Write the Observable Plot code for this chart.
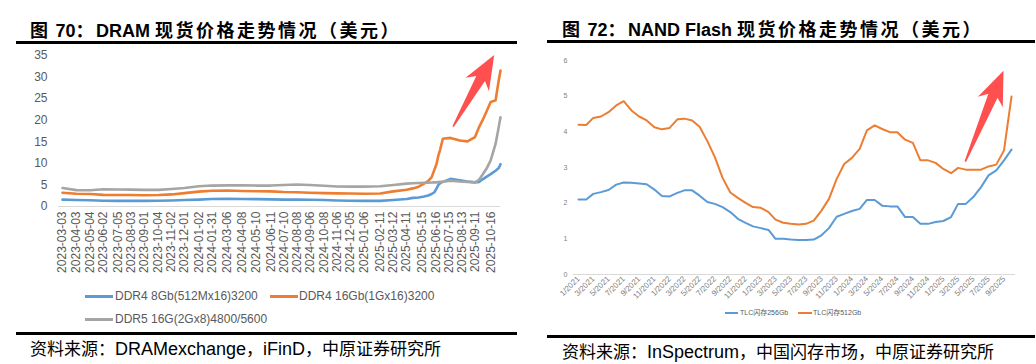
<!DOCTYPE html>
<html lang="zh-CN">
<head>
<meta charset="utf-8">
<script src="https://cdn.jsdelivr.net/npm/d3@7"></script>
<script src="https://cdn.jsdelivr.net/npm/@observablehq/plot@0.6"></script>
<style>
html,body{margin:0;padding:0;background:#fff;}
#root{position:relative;width:1036px;height:364px;overflow:hidden;background:#fff;font-family:"Liberation Sans","Noto Sans CJK SC",sans-serif;}
.a{position:absolute;white-space:nowrap;}
.title{font-size:18px;line-height:18px;font-weight:700;color:#000;font-family:"Liberation Sans","Noto Sans CJK SC",sans-serif;}
.title .c{font-family:"Noto Sans CJK SC",sans-serif;letter-spacing:2.5px;}
.rule{position:absolute;background:#000;height:3px;}
.src{font-size:18px;line-height:18px;color:#000;}
.src .c{font-family:"Noto Sans CJK SC",sans-serif;font-size:17px;}
.lg{font-size:12px;line-height:12px;color:#595959;}
.lg2{font-size:7px;line-height:7px;color:#595959;}
.sw{position:absolute;height:3px;}
.sw2{position:absolute;height:2px;}
</style>
</head>
<body>
<div id="root">
  <!-- left panel -->
  <div class="a title" style="left:30px;top:20px"><span class="c">图</span> 70<span class="c">：</span>DRAM <span class="c">现货价格走势情况（美元）</span></div>
  <div class="rule" style="left:16px;top:41px;width:501px"></div>
  <div class="a" id="left" style="left:16px;top:44px"></div>
  <div id="legL"></div>
  <div class="rule" style="left:16px;top:332px;width:501px"></div>
  <div class="a src" style="left:30px;top:339px"><span class="c">资料来源：</span>DRAMexchange<span class="c">，</span>iFinD<span class="c">，中原证券研究所</span></div>

  <!-- right panel -->
  <div class="a title" style="left:562px;top:19px"><span class="c">图</span> 72<span class="c">：</span>NAND Flash <span class="c">现货价格走势情况（美元）</span></div>
  <div class="rule" style="left:547px;top:40px;width:488px"></div>
  <div class="a" id="right" style="left:547px;top:44px"></div>
  <div id="legR"></div>
  <div class="rule" style="left:547px;top:335px;width:488px"></div>
  <div class="a src" style="left:562px;top:342px"><span class="c">资料来源：</span>InSpectrum<span class="c">，中国闪存市场，中原证券研究所</span></div>
</div>
<script>
// ---------------- DRAM (left) data ----------------
const dramSeries = ["DDR4 8Gb(512Mx16)3200", "DDR4 16Gb(1Gx16)3200", "DDR5 16G(2Gx8)4800/5600"];
const dramColors = ["#5B9BD5", "#ED7D31", "#A5A5A5"];
const dramTickLabels = ["2023-03-03","2023-04-03","2023-05-04","2023-06-02","2023-07-05","2023-08-03","2023-09-01","2023-10-04","2023-11-02","2023-12-01","2024-01-02","2024-01-31","2024-03-06","2024-04-08","2024-05-10","2024-06-11","2024-07-10","2024-08-08","2024-09-06","2024-10-08","2024-11-06","2024-12-05","2025-01-06","2025-02-11","2025-03-12","2025-04-11","2025-05-15","2025-06-16","2025-07-15","2025-08-13","2025-09-11","2025-10-16"];
const dramYTicks = [0, 5, 10, 15, 20, 25, 30, 35];
const dramDates = ["2023-03-03","2023-04-03","2023-05-04","2023-06-02","2023-07-05","2023-08-03","2023-09-01","2023-10-04","2023-11-02","2023-12-01",
  "2024-01-02","2024-01-31","2024-03-06","2024-04-08","2024-05-10","2024-06-11","2024-07-10","2024-08-08","2024-09-06","2024-10-08",
  "2024-11-06","2024-12-05","2025-01-06","2025-02-11","2025-03-12","2025-04-11","2025-04-25","2025-05-08","2025-05-20","2025-05-29",
  "2025-06-06","2025-06-12","2025-06-17","2025-06-21","2025-06-25","2025-07-01","2025-07-18","2025-08-08","2025-08-25","2025-09-11",
  "2025-09-20","2025-09-28","2025-10-08","2025-10-16","2025-10-27","2025-11-03","2025-11-07"];
const ddr4_8Gb = [1.6,1.5,1.45,1.35,1.3,1.3,1.3,1.35,1.4,1.5,
  1.6,1.75,1.8,1.75,1.7,1.65,1.6,1.6,1.55,1.5,
  1.4,1.35,1.3,1.3,1.5,1.75,2.0,2.1,2.3,2.55,
  2.9,3.3,4.2,5.0,5.4,5.7,6.4,6.1,5.8,5.6,
  5.7,6.3,7.0,7.5,8.3,8.9,9.8];
const ddr4_16Gb = [3.2,2.95,2.9,2.7,2.65,2.65,2.6,2.65,2.8,3.1,
  3.45,3.65,3.7,3.6,3.55,3.5,3.35,3.3,3.2,3.1,
  3.05,3.0,2.95,3.0,3.5,3.9,4.2,4.6,5.3,5.9,
  6.8,8.5,9.9,11.8,13.2,15.7,15.9,15.3,15.1,16.1,
  18.4,20.0,22.3,24.2,24.6,29.2,31.5];
const ddr5_16G = [4.3,3.8,3.75,4.0,3.95,3.9,3.85,3.85,4.05,4.3,
  4.7,4.85,4.9,4.9,4.85,4.85,5.0,5.1,5.0,4.8,
  4.65,4.6,4.6,4.7,5.0,5.3,5.4,5.45,5.5,5.5,
  5.55,5.6,5.6,5.65,5.7,5.75,6.0,5.8,5.7,5.6,
  6.2,7.4,9.0,10.7,14.5,18.4,20.7];
const dramArrow = [{x1: "2025-07-25", y1: 18.4, x2: "2025-10-25", y2: 35}];

// ---------------- NAND (right) data ----------------
const nandSeries = ["TLC闪存256Gb", "TLC闪存512Gb"];
const nandColors = ["#5B9BD5", "#ED7D31"];
const nandMonths = ["2021-01","2021-02","2021-03","2021-04","2021-05","2021-06","2021-07","2021-08","2021-09","2021-10","2021-11","2021-12",
  "2022-01","2022-02","2022-03","2022-04","2022-05","2022-06","2022-07","2022-08","2022-09","2022-10","2022-11","2022-12",
  "2023-01","2023-02","2023-03","2023-04","2023-05","2023-06","2023-07","2023-08","2023-09","2023-10","2023-11","2023-12",
  "2024-01","2024-02","2024-03","2024-04","2024-05","2024-06","2024-07","2024-08","2024-09","2024-10","2024-11","2024-12",
  "2025-01","2025-02","2025-03","2025-04","2025-05","2025-06","2025-07","2025-08","2025-09","2025-10"];
const tlc256 = [2.1,2.1,2.26,2.31,2.37,2.52,2.58,2.57,2.55,2.53,
  2.38,2.2,2.19,2.29,2.36,2.36,2.21,2.03,1.98,1.89,
  1.75,1.56,1.45,1.35,1.3,1.25,1.0,1.0,0.98,0.97,
  0.97,0.98,1.1,1.3,1.62,1.7,1.78,1.84,2.09,2.09,
  1.93,1.91,1.91,1.61,1.61,1.42,1.42,1.47,1.5,1.61,
  1.98,1.98,2.17,2.45,2.78,2.92,3.2,3.5];
const tlc512 = [4.2,4.19,4.39,4.43,4.55,4.74,4.86,4.6,4.43,4.32,
  4.13,4.07,4.11,4.35,4.37,4.32,4.14,3.74,3.29,2.71,
  2.3,2.15,2.01,1.89,1.87,1.75,1.54,1.45,1.42,1.4,
  1.42,1.51,1.79,2.12,2.68,3.1,3.27,3.52,4.04,4.18,
  4.08,3.99,3.99,3.78,3.69,3.2,3.2,3.13,2.96,2.84,
  2.99,2.94,2.94,2.94,3.03,3.08,3.48,4.99];
const nandTickLabels = ["2021-01","2021-03","2021-05","2021-07","2021-09","2021-11",
  "2022-01","2022-03","2022-05","2022-07","2022-09","2022-11",
  "2023-01","2023-03","2023-05","2023-07","2023-09","2023-11",
  "2024-01","2024-03","2024-05","2024-07","2024-09","2024-11",
  "2025-01","2025-03","2025-05","2025-07","2025-09"];
const nandYTicks = [0, 1, 2, 3, 4, 5, 6];
const nandArrow = [{x1: "2025-04-01", y1: 3.15, x2: "2025-09-01", y2: 5.7}];

// ---------------- helpers ----------------
const parseDay = d3.utcParse("%Y-%m-%d");
const parseMonth = d3.utcParse("%Y-%m");

function blockArrow(data, parse) {
  return Plot.arrow(data, {
    x1: d => parse(d.x1), y1: "y1", x2: d => parse(d.x2), y2: "y2",
    render(index, scales, values) {
      const g = d3.create("svg:g");
      for (const i of index) {
        const X1 = values.x1[i], Y1 = values.y1[i], X2 = values.x2[i], Y2 = values.y2[i];
        const dx = X2 - X1, dy = Y2 - Y1, L = Math.hypot(dx, dy);
        const ux = dx / L, uy = dy / L, nx = -uy, ny = ux;
        const hl = 34, hw = 13.5, sw = 5, tw = 0.8, notch = 0.8;
        const bx = X2 - ux * hl, by = Y2 - uy * hl;
        const cx = X2 - ux * hl * notch, cy = Y2 - uy * hl * notch;
        const pts = [
          [X1 + nx * tw, Y1 + ny * tw],
          [cx + nx * sw, cy + ny * sw],
          [bx + nx * hw, by + ny * hw],
          [X2, Y2],
          [bx - nx * hw, by - ny * hw],
          [cx - nx * sw, cy - ny * sw],
          [X1 - nx * tw, Y1 - ny * tw]
        ];
        g.append("path").attr("d", "M" + pts.map(p => p.join(",")).join("L") + "Z").attr("fill", "#FF4F4F");
      }
      return g.node();
    }
  });
}

// ---------------- left chart ----------------
const dramRows = [];
[ddr4_8Gb, ddr4_16Gb, ddr5_16G].forEach((vals, s) =>
  vals.forEach((v, i) => dramRows.push({series: dramSeries[s], date: parseDay(dramDates[i]), value: v})));

const left = Plot.plot({
  width: 501, height: 240,
  marginLeft: 46, marginRight: 17, marginTop: 11, marginBottom: 78,
  style: {fontFamily: "'Liberation Sans', Arial, sans-serif", fontSize: "12px", color: "#595959", background: "transparent", overflow: "visible"},
  x: {type: "utc", domain: [parseDay(dramDates[0]), parseDay(dramDates[dramDates.length - 1])], label: null},
  y: {domain: [0, 35], label: null},
  color: {domain: dramSeries, range: dramColors},
  marks: [
    Plot.ruleY([0], {stroke: "#D9D9D9", strokeWidth: 1, insetLeft: -4}),
    Plot.axisY(dramYTicks, {tickSize: 0, tickPadding: 15, label: null, fontSize: 12}),
    Plot.axisX(dramTickLabels.map(parseDay), {tickSize: 0, tickPadding: 5, tickRotate: -90, tickFormat: d3.utcFormat("%Y-%m-%d"), label: null, fontSize: 12}),
    Plot.line(dramRows, {x: "date", y: "value", z: "series", stroke: "series", strokeWidth: 2.6}),
    blockArrow(dramArrow, parseDay)
  ]
});
document.getElementById("left").appendChild(left);

// ---------------- right chart ----------------
const nandRows = [];
[tlc256, tlc512].forEach((vals, s) =>
  vals.forEach((v, i) => nandRows.push({series: nandSeries[s], date: parseMonth(nandMonths[i]), value: v})));

const right = Plot.plot({
  width: 488, height: 262,
  marginLeft: 31, marginRight: 24, marginTop: 16, marginBottom: 32,
  style: {fontFamily: "'Liberation Sans', Arial, sans-serif", fontSize: "8px", color: "#7F7F7F", background: "transparent", overflow: "visible"},
  x: {type: "utc", domain: [parseMonth(nandMonths[0]), parseMonth(nandMonths[nandMonths.length - 1])], label: null},
  y: {domain: [0, 6], label: null},
  color: {domain: nandSeries, range: nandColors},
  marks: [
    Plot.ruleY([0], {stroke: "#D9D9D9", strokeWidth: 1, insetLeft: -5, insetRight: -4}),
    Plot.axisY(nandYTicks, {tickSize: 0, tickPadding: 11, label: null, fontSize: 7}),
    Plot.axisX(nandTickLabels.map(parseMonth), {tickSize: 0, tickPadding: 3, tickRotate: -45, tickFormat: d3.utcFormat("%-m/%Y"), label: null, fontSize: 8}),
    Plot.line(nandRows, {x: "date", y: "value", z: "series", stroke: "series", strokeWidth: 2}),
    blockArrow(nandArrow, parseDay)
  ]
});
document.getElementById("right").appendChild(right);

// ---------------- legends ----------------
const legL = document.getElementById("legL");
const legLPos = [[85, 295, 115, 290], [270, 295, 299, 290], [85, 318, 115, 313]];
dramSeries.forEach((s, i) => {
  const [sx, sy, tx, ty] = legLPos[i];
  const sw = document.createElement("div");
  sw.className = "sw"; sw.style.left = sx + "px"; sw.style.top = sy + "px"; sw.style.width = "28px"; sw.style.background = dramColors[i];
  const t = document.createElement("div");
  t.className = "a lg"; t.style.left = tx + "px"; t.style.top = ty + "px"; t.textContent = s;
  legL.appendChild(sw); legL.appendChild(t);
});
const legR = document.getElementById("legR");
const legRPos = [[725, 312, 13, 740, 309], [798, 312, 14, 813, 309]];
nandSeries.forEach((s, i) => {
  const [sx, sy, w, tx, ty] = legRPos[i];
  const sw = document.createElement("div");
  sw.className = "sw2"; sw.style.left = sx + "px"; sw.style.top = sy + "px"; sw.style.width = w + "px"; sw.style.background = nandColors[i];
  const t = document.createElement("div");
  t.className = "a lg2"; t.style.left = tx + "px"; t.style.top = ty + "px"; t.textContent = s;
  legR.appendChild(sw); legR.appendChild(t);
});
</script>
</body>
</html>
